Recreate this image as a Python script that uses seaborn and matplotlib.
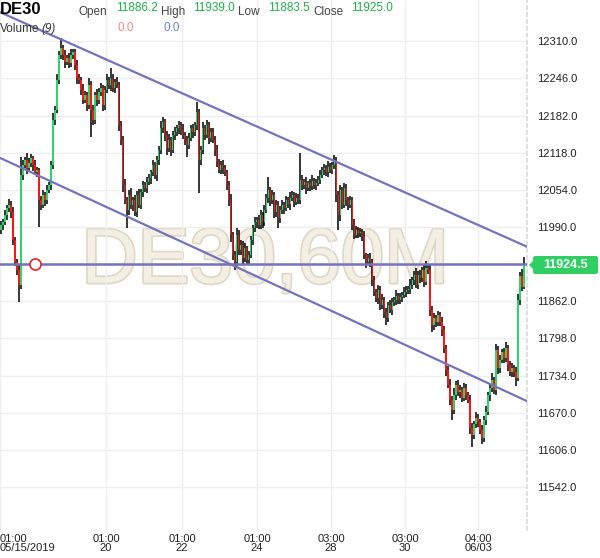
import numpy as np
import pandas as pd
import seaborn as sns
import matplotlib.pyplot as plt
import matplotlib.patheffects as pe
from matplotlib.patches import FancyBboxPatch, Polygon

# hourly closes, DE30 60M
closes = [
    11993, 11998, 12010, 12022, 12027, 12015, 11967, 11929, 11916, 11890,
    12079, 12096, 12105, 12091, 12100, 12108, 12096, 12084, 12088, 12036,
    12028, 12045, 12036, 12053, 12062, 12096, 12174, 12191, 12243, 12286,
    12298, 12286, 12274, 12281, 12272, 12286, 12291, 12269, 12246, 12243,
    12226, 12208, 12217, 12200, 12234, 12191, 12174, 12217, 12208, 12222,
    12229, 12200, 12226, 12243, 12234, 12246, 12229, 12239, 12234, 12165,
    12140, 12062, 12036, 12019, 12045, 12028, 12036, 12015, 12045, 12028,
    12050, 12062, 12057, 12067, 12074, 12084, 12096, 12079, 12105, 12122,
    12160, 12170, 12148, 12126, 12140, 12122, 12148, 12153, 12160, 12165,
    12157, 12148, 12140, 12131, 12143, 12160, 12153, 12165, 12188, 12105,
    12122, 12160, 12148, 12165, 12143, 12153, 12140, 12122, 12102, 12088,
    12096, 12091, 12084, 12062, 12036, 11976, 11941, 11929, 11976, 11950,
    11959, 11936, 11953, 11933, 11941, 11967, 11988, 11998, 12002, 11993,
    12010, 11998, 12019, 12040, 12053, 12036, 12045, 12015, 12028, 12005,
    12019, 12028, 12022, 12036, 12029, 12040, 12045, 12033, 12040, 12036,
    12071, 12062, 12067, 12057, 12065, 12060, 12069, 12062, 12065, 12071,
    12079, 12088, 12091, 12084, 12093, 12088, 12096, 12102, 12045, 12010,
    12053, 12028, 12057, 12036, 12028, 12036, 11993, 11976, 11985, 11979,
    11981, 11974, 11941, 11929, 11936, 11929, 11898, 11878, 11867, 11881,
    11855, 11864, 11843, 11833, 11855, 11847, 11860, 11864, 11871, 11864,
    11869, 11872, 11878, 11881, 11884, 11890, 11898, 11907, 11890, 11907,
    11902, 11916, 11895, 11919, 11916, 11847, 11821, 11833, 11826, 11838,
    11826, 11812, 11781, 11743, 11718, 11692, 11675, 11700, 11718, 11705,
    11709, 11695, 11712, 11700, 11692, 11644, 11632, 11650, 11661, 11654,
    11640, 11626, 11657, 11671, 11700, 11712, 11726, 11709, 11778, 11747,
    11761, 11774, 11764, 11781, 11752, 11740, 11747, 11740, 11730, 11864,
    11905, 11886.2, 11925,
]
first_open = 11985

wick_up = [
    8, 6, 10, 5, 12, 7, 9, 6, 5, 8,
    31, 9, 6, 12, 8, 7, 5, 10, 6, 4,
    7, 9, 5, 10, 6, 8, 12, 7, 10, 8,
    17, 6, 9, 5, 8, 11, 6, 5, 9, 7,
    6, 10, 8, 5, 12, 7, 9, 6, 11, 8,
    9, 5, 7, 10, 6, 18, 8, 6, 9, 5,
    7, 6, 10, 5, 8, 12, 6, 9, 7, 10,
    5, 8, 6, 9, 7, 5, 10, 6, 8, 7,
    12, 9, 6, 8, 10, 5, 7, 9, 6, 8,
    6, 10, 5, 7, 9, 6, 8, 5, 17, 6,
    8, 10, 6, 9, 5, 7, 8, 6, 10, 5,
    7, 9, 6, 5, 8, 10, 6, 7, 12, 8,
    9, 6, 10, 5, 7, 8, 6, 9, 5, 8,
    10, 6, 8, 7, 23, 6, 9, 5, 8, 6,
    7, 9, 5, 8, 6, 10, 7, 5, 9, 6,
    46, 8, 6, 9, 5, 7, 10, 6, 8, 7,
    9, 6, 8, 5, 10, 7, 6, 12, 8, 7,
    10, 6, 9, 7, 5, 8, 6, 10, 7, 5,
    8, 6, 9, 5, 7, 10, 6, 8, 5, 9,
    7, 10, 6, 8, 5, 9, 7, 6, 10, 5,
    8, 6, 9, 7, 5, 10, 6, 8, 12, 7,
    9, 5, 10, 12, 6, 8, 7, 9, 5, 8,
    6, 9, 7, 5, 8, 10, 6, 12, 7, 9,
    8, 6, 10, 7, 5, 9, 8, 6, 10, 7,
    6, 9, 7, 10, 5, 8, 12, 6, 10, 7,
    9, 6, 8, 10, 5, 7, 9, 6, 8, 10,
    8, 12, 14,
]
wick_dn = [
    7, 9, 5, 8, 6, 10, 8, 6, 9, 29,
    6, 8, 5, 10, 7, 6, 9, 5, 8, 46,
    8, 6, 10, 7, 5, 9, 6, 8, 5, 7,
    6, 8, 10, 5, 9, 7, 6, 8, 10, 6,
    9, 7, 5, 10, 6, 46, 8, 6, 9, 7,
    6, 10, 8, 5, 7, 9, 6, 8, 5, 10,
    8, 12, 6, 31, 9, 7, 10, 6, 8, 5,
    7, 9, 6, 8, 5, 10, 7, 6, 9, 8,
    6, 8, 10, 12, 7, 9, 5, 8, 6, 10,
    8, 6, 9, 21, 7, 5, 10, 6, 8, 57,
    9, 6, 8, 5, 10, 7, 6, 9, 8, 5,
    7, 9, 6, 8, 10, 12, 8, 13, 6, 9,
    8, 10, 6, 9, 7, 5, 8, 6, 10, 7,
    6, 9, 7, 5, 8, 10, 6, 9, 7, 17,
    8, 6, 10, 5, 7, 9, 6, 8, 5, 7,
    6, 9, 7, 10, 5, 8, 6, 7, 9, 5,
    7, 5, 9, 6, 8, 5, 7, 6, 12, 25,
    9, 7, 6, 10, 8, 6, 9, 7, 5, 8,
    6, 9, 7, 10, 5, 8, 9, 7, 6, 10,
    8, 6, 9, 12, 7, 5, 8, 6, 9, 7,
    6, 8, 5, 9, 7, 10, 6, 8, 5, 7,
    8, 6, 9, 5, 7, 10, 12, 8, 9, 6,
    7, 9, 8, 10, 6, 9, 18, 7, 8, 6,
    9, 7, 5, 8, 6, 10, 21, 8, 6, 9,
    7, 10, 6, 8, 5, 9, 7, 6, 8, 10,
    8, 6, 9, 7, 10, 6, 8, 9, 14, 6,
    9, 7, 2.7,
]

tick_bars = [-0.5, 52.6, 90.7, 128.3, 165.3, 202.4, 239]
tick_labels = ["01:00\n05/15/2019", "01:00\n20", "01:00\n22", "01:00\n24",
               "03:00\n28", "03:00\n30", "04:00\n06/03"]
price_ticks = [11542, 11606, 11670, 11734, 11798, 11862, 11926,
               11990, 12054, 12118, 12182, 12246, 12310]

# drawn trend lines (bar index, price)
upper_line = pd.DataFrame({"bar": [-0.5, 263.5], "price": [12360, 11956]})
lower_line = pd.DataFrame({"bar": [-0.5, 263.5], "price": [12109, 11690]})
level = 11926
marker_bar = 17
last_price = 11924.5

hdr_open, hdr_high, hdr_low, hdr_close = "11886.2", "11939.0", "11883.5", "11925.0"

sns.set_theme(style="white")
plt.rcParams['font.family'] = ['Liberation Sans', 'DejaVu Sans']

opens = [first_open] + closes[:-1]
df = pd.DataFrame({"open": opens, "close": closes})
df["high"] = np.maximum(df["open"], df["close"]) + np.array(wick_up)
df["low"] = np.minimum(df["open"], df["close"]) - np.array(wick_dn)
df["bottom"] = np.minimum(df["open"], df["close"])
df["body"] = np.maximum((df["close"] - df["open"]).abs(), 1.5)
df["color"] = np.where(df["close"] >= df["open"], "#2fd36b", "#ff1414")

fig = plt.figure(figsize=(6, 5.58), dpi=100)
ax = fig.add_axes([0, 28 / 558, 527 / 600, 530 / 558])

ax.text(0.503, 0.505, "DE30,60M", transform=ax.transAxes, ha="center", va="center",
        fontsize=56, color="#f3efe5", zorder=0.1,
        path_effects=[pe.withStroke(linewidth=2.4, foreground="#e0d8c5")])

ax.vlines(df.index, df["low"], df["high"], color="black", lw=1.1, zorder=2)
ax.bar(df.index, df["body"], bottom=df["bottom"], width=0.7, color=df["color"],
       linewidth=0, zorder=3)

line_col = "#7473bb"
sns.lineplot(data=upper_line, x="bar", y="price", color=line_col, lw=1.6, ax=ax, zorder=4)
sns.lineplot(data=lower_line, x="bar", y="price", color=line_col, lw=1.6, ax=ax, zorder=4)
ax.axhline(level, color=line_col, lw=1.8, zorder=4)
ax.plot([marker_bar], [level], "o", ms=8, mfc="white", mec="#ee2222", mew=1.2, zorder=5)

ax.set_xlim(-0.5, 263.5)
ax.set_ylim(11468, 12381)
ax.set_xlabel("")
ax.set_ylabel("")

ax.set_xticks(tick_bars)
ax.set_xticklabels(tick_labels, linespacing=0.9)
ax.get_xticklabels()[0].set_horizontalalignment("left")
ax.yaxis.tick_right()
ax.set_yticks(price_ticks)
ax.set_yticklabels(["" if v == level else f"{v:.1f}" for v in price_ticks])
ax.tick_params(axis="y", length=0, pad=7, labelsize=8, labelcolor="#222222")
ax.tick_params(axis="x", length=0, pad=3, labelsize=8, labelcolor="#222222")
ax.grid(True, color="#efefef", lw=1)
ax.set_axisbelow(True)
for side in ["top", "left", "bottom"]:
    ax.spines[side].set_visible(False)
ax.spines["right"].set_color("#dcdcdc")
ax.spines["right"].set_linestyle((0, (2, 2)))

# last price box on the right axis
W, H = 600, 558
fig.patches.append(FancyBboxPatch((533 / W, 1 - 274 / H), 65 / W, 18 / H,
                                  boxstyle="round,pad=0,rounding_size=0.004",
                                  transform=fig.transFigure, fc="#2fcf63", ec="none"))
fig.patches.append(Polygon([(529 / W, 1 - 265 / H), (534 / W, 1 - 260 / H), (534 / W, 1 - 270 / H)],
                           closed=True, transform=fig.transFigure, fc="#2fcf63", ec="none"))
fig.text(565.5 / W, 1 - 265.5 / H, f"{last_price:.1f}", color="white", fontsize=9,
         fontweight="bold", ha="center", va="center")

# header
grey, green = "#444444", "#22b04b"
fig.text(0, 1 - 2 / H, "DE30", fontsize=12, fontweight="bold", va="top", color="black")
for x, txt, col, top in [(79, "Open", grey, 6), (116, hdr_open, green, 2),
                         (161, "High", grey, 6), (193, hdr_high, green, 2),
                         (238, "Low", grey, 6), (268, hdr_low, green, 2),
                         (313, "Close", grey, 6), (351, hdr_close, green, 2)]:
    fig.text(x / W, 1 - top / H, txt, fontsize=8.5, color=col, va="top")
fig.text(0, 1 - 23 / H, "Volume", fontsize=8.5, color="#333333", va="top")
fig.text(41 / W, 1 - 23 / H, "(9)", fontsize=8.5, color="#333333", va="top", style="italic")
fig.text(117 / W, 1 - 22 / H, "0.0", fontsize=8.5, color="#f08a8a", va="top")
fig.text(163 / W, 1 - 22 / H, "0.0", fontsize=8.5, color="#6a86d8", va="top")

fig.savefig("out.png", dpi=100)
